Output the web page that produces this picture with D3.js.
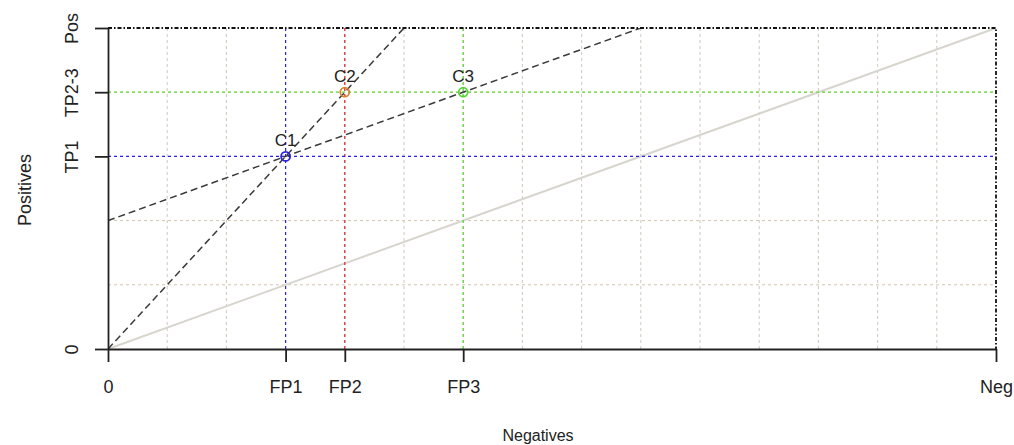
<!DOCTYPE html>
<html>
<head>
<meta charset="utf-8">
<script src="https://cdn.jsdelivr.net/npm/d3@7"></script>
<style>
  html, body { margin: 0; padding: 0; background: #fff; }
  svg { display: block; }
  text { font-family: "Liberation Sans", Arial, sans-serif; fill: #222; }
</style>
</head>
<body>
<svg id="chart" width="1014" height="445"></svg>
<script>
// ROC space: negatives on x, positives on y
const negMax = 15;
const posMax = 5;

const xTickValues = [0, 3, 4, 6, 15];
const xTickLabels = ["0", "FP1", "FP2", "FP3", "Neg"];
const yTickValues = [0, 3, 4, 5];
const yTickLabels = ["0", "TP1", "TP2-3", "Pos"];

const gridX = [1, 2, 3, 4, 5, 6, 7, 8, 9, 10, 11, 12, 13, 14];
const gridY = [1, 2, 3, 4];

const classifierNames = ["C1", "C2", "C3"];
const classifierFP = [3, 4, 6];
const classifierTP = [3, 4, 4];
const classifierColors = ["#2a22e0", "#d9832e", "#55d633"];

// guide lines through each classifier
const vGuideColors = ["#2a22e0", "#e02424", "#55d633"];
const hGuideTP = [3, 4];
const hGuideColors = ["#2a22e0", "#66dd33"];

// iso-performance lines, each through two reference points
const isoLines = [
  { from: [0, 0], to: [3, 3] },
  { from: [3, 3], to: [6, 4] }
];

const svg = d3.select("#chart");
const plot = { left: 108, right: 996, top: 28, bottom: 349 };
const tickFont = 18;

const x = d3.scaleLinear().domain([0, negMax]).range([plot.left, plot.right]);
const y = d3.scaleLinear().domain([0, posMax]).range([plot.bottom, plot.top]);

svg.append("defs").append("clipPath").attr("id", "plotClip")
  .append("rect").attr("x", plot.left).attr("y", plot.top)
  .attr("width", plot.right - plot.left).attr("height", plot.bottom - plot.top);

// grid
svg.append("g").selectAll("line").data(gridX).join("line")
  .attr("x1", d => x(d)).attr("x2", d => x(d))
  .attr("y1", y(0)).attr("y2", y(posMax))
  .attr("stroke", "#cdc8bc").attr("stroke-width", 1)
  .attr("stroke-dasharray", "3,3");
svg.append("g").selectAll("line").data(gridY).join("line")
  .attr("x1", x(0)).attr("x2", x(negMax))
  .attr("y1", d => y(d)).attr("y2", d => y(d))
  .attr("stroke", "#d2c6ae").attr("stroke-width", 1)
  .attr("stroke-dasharray", "3,3");

// random-classifier diagonal
svg.append("line")
  .attr("x1", x(0)).attr("y1", y(0))
  .attr("x2", x(negMax)).attr("y2", y(posMax))
  .attr("stroke", "#d8d5cf").attr("stroke-width", 2);

// vertical guides at each FP
svg.append("g").selectAll("line").data(classifierFP).join("line")
  .attr("x1", d => x(d)).attr("x2", d => x(d))
  .attr("y1", y(0)).attr("y2", y(posMax))
  .attr("stroke", (d, i) => vGuideColors[i]).attr("stroke-width", 1.2)
  .attr("stroke-dasharray", "3,3");

// horizontal guides at each TP
svg.append("g").selectAll("line").data(hGuideTP).join("line")
  .attr("x1", x(0)).attr("x2", x(negMax))
  .attr("y1", d => y(d)).attr("y2", d => y(d))
  .attr("stroke", (d, i) => hGuideColors[i]).attr("stroke-width", 1.2)
  .attr("stroke-dasharray", "3,3");

// iso-performance lines extended across the plot
const isoG = svg.append("g").attr("clip-path", "url(#plotClip)");
isoLines.forEach(l => {
  const slope = (l.to[1] - l.from[1]) / (l.to[0] - l.from[0]);
  const icpt = l.from[1] - slope * l.from[0];
  const x0 = 0, x1 = negMax;
  isoG.append("line")
    .attr("x1", x(x0)).attr("y1", y(icpt + slope * x0))
    .attr("x2", x(x1)).attr("y2", y(icpt + slope * x1))
    .attr("stroke", "#3a3a3a").attr("stroke-width", 1.5)
    .attr("stroke-dasharray", "7,4");
});

// top and right frame (dot-dash)
svg.append("path")
  .attr("d", `M${plot.left},${plot.top}H${plot.right}V${plot.bottom}`)
  .attr("fill", "none").attr("stroke", "#111").attr("stroke-width", 1.8)
  .attr("stroke-dasharray", "4,2,1.5,2");

// axes
const xAxis = d3.axisBottom(x).tickValues(xTickValues)
  .tickFormat((d, i) => xTickLabels[i]).tickSize(13).tickSizeOuter(0).tickPadding(18);
const gx = svg.append("g").attr("transform", `translate(0,${plot.bottom})`).call(xAxis);
gx.select(".domain").attr("stroke", "#222").attr("stroke-width", 1.8);
gx.selectAll(".tick line").attr("stroke", "#222").attr("stroke-width", 1.8);
gx.selectAll(".tick text").attr("font-size", tickFont).attr("fill", "#222")
  .style("font-family", "Liberation Sans, Arial, sans-serif");

const yAxis = d3.axisLeft(y).tickValues(yTickValues)
  .tickFormat((d, i) => yTickLabels[i]).tickSize(13).tickSizeOuter(0).tickPadding(0);
const gy = svg.append("g").attr("transform", `translate(${plot.left},0)`).call(yAxis);
gy.select(".domain").attr("stroke", "#222").attr("stroke-width", 1.8);
gy.selectAll(".tick line").attr("stroke", "#222").attr("stroke-width", 1.8);
gy.selectAll(".tick text")
  .attr("x", 0).attr("dy", 0)
  .attr("transform", "translate(-30,0) rotate(-90)")
  .attr("text-anchor", "middle")
  .attr("dominant-baseline", "auto")
  .attr("font-size", tickFont).attr("fill", "#222")
  .style("font-family", "Liberation Sans, Arial, sans-serif");

// axis titles
svg.append("text").attr("x", 538).attr("y", 441)
  .attr("text-anchor", "middle").attr("font-size", 16).text("Negatives");
svg.append("text").attr("transform", "translate(31,190) rotate(-90)")
  .attr("text-anchor", "middle").attr("font-size", 18).text("Positives");

// classifier points and labels
const pts = classifierNames.map((n, i) => ({ name: n, fp: classifierFP[i], tp: classifierTP[i], color: classifierColors[i] }));
svg.append("g").selectAll("circle").data(pts).join("circle")
  .attr("cx", d => x(d.fp)).attr("cy", d => y(d.tp)).attr("r", 4.5)
  .attr("fill", "none").attr("stroke", d => d.color).attr("stroke-width", 1.8);
svg.append("g").selectAll("text").data(pts).join("text")
  .attr("x", d => x(d.fp)).attr("y", d => y(d.tp) - 10)
  .attr("text-anchor", "middle").attr("font-size", 17).attr("fill", "#222")
  .text(d => d.name);
</script>
</body>
</html>
